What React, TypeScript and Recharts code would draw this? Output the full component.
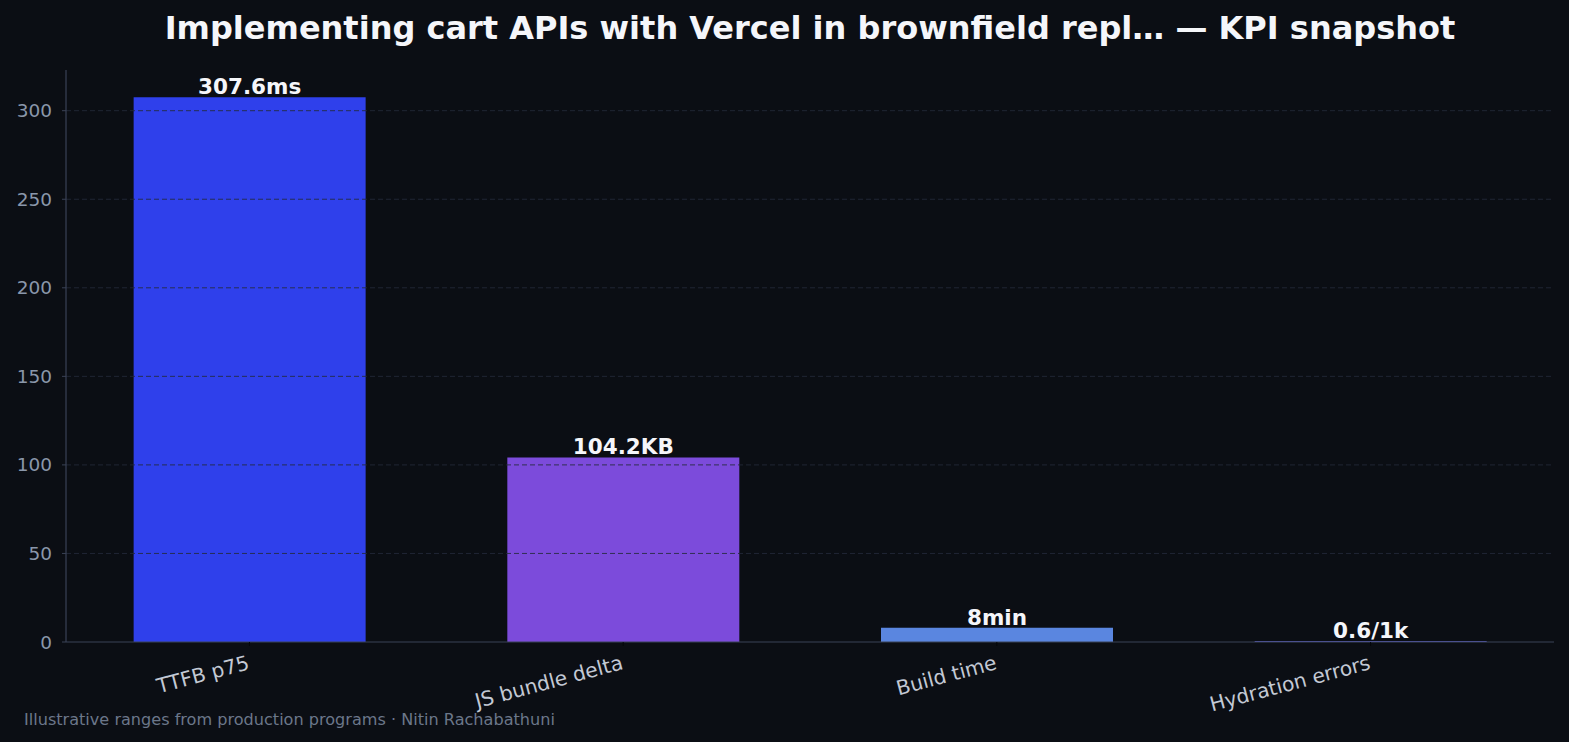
import React from "react";
import {
  BarChart,
  Bar,
  XAxis,
  YAxis,
  Cell,
  LabelList,
  ReferenceLine,
} from "recharts";

// KPI snapshot data
const categories = ["TTFB p75", "JS bundle delta", "Build time", "Hydration errors"];
const values = [307.6, 104.2, 8, 0.6];
const valueLabels = ["307.6ms", "104.2KB", "8min", "0.6/1k"];
const yTicks = [0, 50, 100, 150, 200, 250, 300];
const gridLevels = [50, 100, 150, 200, 250, 300];

const barColors = ["#2f40eb", "#7c4bdb", "#5a86e0", "#5a5fc8"];

const data = categories.map((name, i) => ({
  idx: i,
  name,
  value: values[i],
  label: valueLabels[i],
}));

const W = 1569;
const H = 742;
const FONT = "'DejaVu Sans', Verdana, sans-serif";
const BG = "#0b0e14";

const XTick = (props: any) => {
  const { x, payload } = props;
  const label = categories[payload.value] ?? "";
  return (
    <g transform={`translate(${x - 3},654)`}>
      <text
        transform="rotate(-15)"
        textAnchor="end"
        dy="0.76em"
        fill="#c3c9d4"
        fontSize={20.2}
        fontFamily={FONT}
      >
        {label}
      </text>
    </g>
  );
};

export default function App() {
  return (
    <div
      style={{
        position: "absolute",
        left: 0,
        top: 0,
        width: W,
        height: H,
        background: BG,
        fontFamily: FONT,
        overflow: "hidden",
      }}
    >
      <div
        style={{
          position: "absolute",
          left: 66,
          width: 1488,
          top: 8,
          textAlign: "center",
          color: "#f5f6fa",
          fontWeight: "bold",
          fontSize: 32,
          lineHeight: "40px",
          whiteSpace: "nowrap",
        }}
      >
        Implementing cart APIs with Vercel in brownfield repl… — KPI snapshot
      </div>
      <BarChart
        width={W}
        height={H}
        data={data}
        margin={{ top: 70, right: 15, bottom: 70, left: 16 }}
        style={{ position: "absolute", left: 0, top: 0 }}
      >
        <XAxis
          dataKey="idx"
          type="number"
          domain={[-0.491, 3.491]}
          ticks={[0, 1, 2, 3]}
          allowDataOverflow
          height={30}
          axisLine={{ stroke: "#3a4256", strokeWidth: 1.2 }}
          tickLine={{ stroke: "#05070a", strokeWidth: 1 }}
          tickSize={4}
          tick={<XTick />}
          interval={0}
        />
        <YAxis
          type="number"
          domain={[0, 322.98]}
          ticks={yTicks}
          allowDataOverflow
          width={50}
          axisLine={{ stroke: "#3a4256", strokeWidth: 1.2 }}
          tickLine={{ stroke: "#3a4256" }}
          tickSize={4}
          tick={{ fill: "#8a97aa", fontSize: 18.5, fontFamily: FONT }}
          tickMargin={10}
        />
        <Bar dataKey="value" barSize={232} isAnimationActive={false}>
          {data.map((d, i) => (
            <Cell key={d.name} fill={barColors[i]} />
          ))}
          <LabelList
            dataKey="label"
            position="top"
            offset={3}
            fill="#f5f6fa"
            fontSize={21.5}
            fontWeight="bold"
            fontFamily={FONT}
          />
        </Bar>
        {gridLevels.map((v) => (
          <ReferenceLine
            key={v}
            y={v}
            stroke="#232a3a"
            strokeOpacity={0.85}
            strokeDasharray="5 3"
            strokeWidth={1}
          />
        ))}
      </BarChart>
      <div
        style={{
          position: "absolute",
          left: 24,
          top: 710,
          color: "#6b778a",
          fontSize: 16.1,
          lineHeight: "20px",
          whiteSpace: "nowrap",
        }}
      >
        Illustrative ranges from production programs · Nitin Rachabathuni
      </div>
    </div>
  );
}
